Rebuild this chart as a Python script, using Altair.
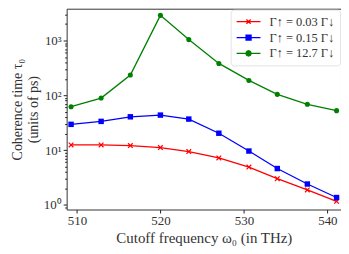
import altair as alt
import pandas as pd

# ---- data ----
freq = [509.3, 512.9, 516.4, 520.0, 523.4, 527.0, 530.6, 534.0, 537.6, 541.1]
tau_low = [12.4, 12.4, 12.1, 11.1, 9.4, 7.2, 4.9, 3.0, 1.87, 1.16]
tau_mid = [29.5, 33.4, 40.5, 43.5, 36.8, 20.3, 9.6, 4.6, 2.4, 1.36]
tau_high = [62, 89, 234, 2880, 1040, 382, 187, 104, 68.6, 52.5]
series_names = ["Γ↑ = 0.03 Γ↓", "Γ↑ = 0.15 Γ↓", "Γ↑ = 12.7 Γ↓"]
series_colors = ["#ff0000", "#0000ff", "#008000"]
x_ticks = [510, 520, 530, 540]
y_major = [1, 10, 100, 1000]
y_ticks = [0.9] + [m * d for d in [1, 10, 100] for m in range(1, 10)] + [1000, 2000, 3000]

rows = []
for name, vals in zip(series_names, [tau_low, tau_mid, tau_high]):
    for f, v in zip(freq, vals):
        rows.append({"series": name, "freq": f, "tau": v})
df = pd.DataFrame(rows)

FONT = "Liberation Serif"

x_enc = alt.X("freq:Q", scale=alt.Scale(domain=[508.77, 541.63], nice=False, zero=False),
              axis=alt.Axis(values=x_ticks, title="Cutoff frequency ω₀ (in THz)", grid=False,
                            domain=False, tickSize=3.5, tickColor="#222", labelPadding=2,
                            titlePadding=3, labelFontSize=13, titleFontSize=15,
                            labelFont=FONT, titleFont=FONT, titleFontWeight="normal",
                            labelColor="#333", titleColor="#333"))
y_enc = alt.Y("tau:Q", scale=alt.Scale(type="log", domain=[0.822, 3810], nice=False),
              axis=alt.Axis(values=y_ticks, grid=False, domain=False,
                            tickSize={"condition": {"test": "indexof([1,10,100,1000], datum.value) >= 0", "value": 3.5}, "value": 2},
                            tickColor="#222", labelPadding=2,
                            labelExpr="datum.value == 1 ? '10⁰' : datum.value == 10 ? '10¹' : datum.value == 100 ? '10²' : datum.value == 1000 ? '10³' : ''",
                            title=["Coherence time τ₀", "(units of ps)"], titlePadding=3,
                            labelFontSize=13, titleFontSize=14, labelFont=FONT, titleFont=FONT,
                            titleFontWeight="normal", labelColor="#333", titleColor="#333"))

base = alt.Chart(df)

marker_shapes = ["M-1,-1L1,1M-1,1L1,-1", "square", "circle"]
marker_sizes = [22, 30, 26]
marker_filled = [False, True, True]

layers = []
for name, col in zip(series_names, series_colors):
    layers.append(base.transform_filter(alt.datum.series == name)
                  .mark_line(strokeWidth=1.3, color=col)
                  .encode(x=x_enc, y=y_enc, order="freq:Q"))
for name, col, shp, sz, fl in zip(series_names, series_colors, marker_shapes, marker_sizes, marker_filled):
    layers.append(base.transform_filter(alt.datum.series == name)
                  .mark_point(shape=shp, size=sz, filled=fl, color=col, opacity=1, strokeWidth=1.2)
                  .encode(x=x_enc, y=y_enc))

legend_paths = [
    "M-2,0H2M-0.35,-0.35L0.35,0.35M-0.35,0.35L0.35,-0.35",
    "M-2,0H2M-0.42,-0.42H0.42V0.42H-0.42Z",
    "M-2,0H2M0.44,0L0.31,0.31L0,0.44L-0.31,0.31L-0.44,0L-0.31,-0.31L0,-0.44L0.31,-0.31Z",
]
leg = alt.Legend(title=None, orient="top-right", offset=1, symbolSize=144,
                 symbolStrokeWidth=1.3, symbolOpacity=1, symbolOffset=6, labelOffset=14,
                 labelFont=FONT, labelFontSize=12.5, labelColor="#333", rowPadding=2,
                 padding=5, strokeColor="#e3e3e3", fillColor="white",
                 cornerRadius=3)
legend_layer = base.mark_point(size=0.001, opacity=0, filled=False).encode(
    x=x_enc, y=y_enc,
    shape=alt.Shape("series:N", scale=alt.Scale(domain=series_names, range=legend_paths), legend=leg),
    color=alt.Color("series:N", scale=alt.Scale(domain=series_names, range=series_colors), legend=leg),
    fill=alt.Fill("series:N", scale=alt.Scale(domain=series_names, range=series_colors), legend=leg),
)
layers.append(legend_layer)

chart = alt.layer(*layers).properties(
    width=276, height=202,
    autosize=alt.AutoSizeParams(type="none"),
    padding={"left": 59, "top": 0, "right": 0, "bottom": 36},
    background="white",
).configure_view(stroke="#333", strokeWidth=1)

chart.save("out.html", embed_options={"renderer": "svg", "actions": False})
